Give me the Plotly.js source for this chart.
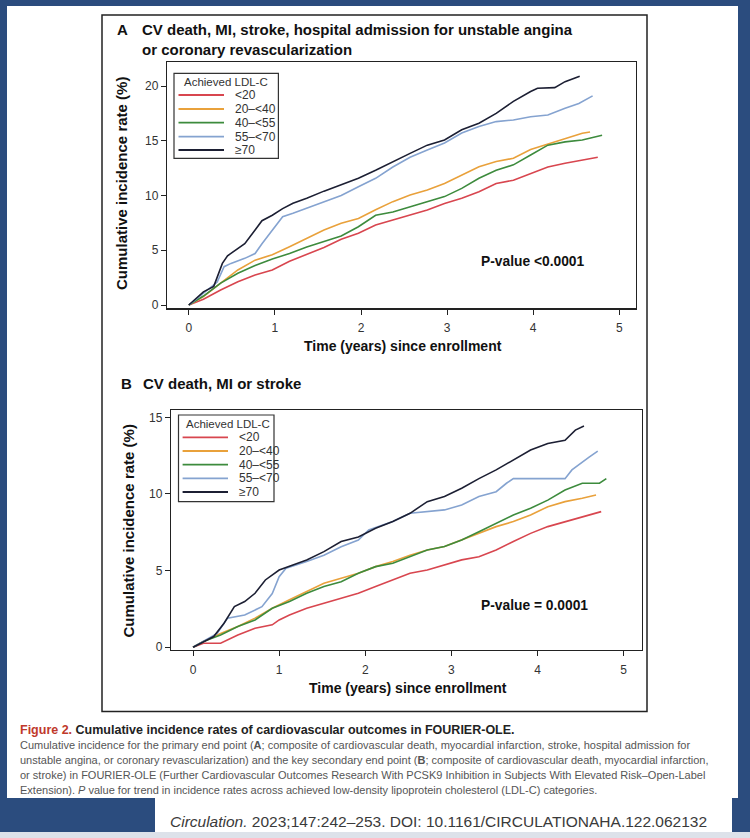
<!DOCTYPE html>
<html>
<head>
<meta charset="utf-8">
<script src="https://cdn.plot.ly/plotly-3.0.1.min.js"></script>
<style>html,body{margin:0;padding:0;background:#2b4c7e;}#chart{width:750px;height:838px;}</style>
</head>
<body>
<div id="chart"></div>
<script>
// ---------- DATA ----------
const groupNames = ["<20", "20\u2013<40", "40\u2013<55", "55\u2013<70", "\u226570"];
const groupColors = ["#d8464f", "#e9a13b", "#3d8b3d", "#85a3d0", "#1c1f33"];
const xTicks = [0, 1, 2, 3, 4, 5];
const yTicksA = [0, 5, 10, 15, 20];
const yTicksB = [0, 5, 10, 15];

// Panel A: CV death, MI, stroke, hospital admission for UA or coronary revascularization
const aTimeLt20 = [0,0.17,0.37,0.57,0.77,0.97,1.17,1.37,1.57,1.77,1.97,2.17,2.37,2.57,2.77,2.97,3.17,3.37,3.57,3.77,3.97,4.17,4.37,4.57,4.75];
const aRateLt20 = [0,0.52,1.37,2.13,2.74,3.2,4.0,4.6,5.25,6.0,6.55,7.3,7.76,8.2,8.68,9.28,9.74,10.35,11.1,11.4,12.0,12.6,12.94,13.24,13.5];
const aTime20to40 = [0,0.17,0.37,0.57,0.77,0.97,1.17,1.37,1.57,1.77,1.97,2.17,2.37,2.57,2.77,2.97,3.17,3.37,3.57,3.77,3.97,4.17,4.37,4.57,4.66];
const aRate20to40 = [0,0.76,2.0,3.2,4.1,4.6,5.33,6.09,6.85,7.46,7.9,8.7,9.44,10.05,10.5,11.1,11.87,12.63,13.1,13.4,14.2,14.7,15.2,15.68,15.8];
const aTime40to55 = [0,0.17,0.37,0.57,0.77,0.97,1.17,1.37,1.57,1.77,1.97,2.17,2.37,2.57,2.77,2.97,3.17,3.37,3.57,3.77,3.97,4.17,4.37,4.57,4.8];
const aRate40to55 = [0,0.82,2.0,2.9,3.6,4.2,4.7,5.3,5.8,6.3,7.15,8.2,8.5,8.98,9.44,9.9,10.65,11.57,12.3,12.8,13.7,14.6,14.9,15.07,15.5];
const aTime55to70 = [0,0.17,0.33,0.41,0.49,0.65,0.77,0.85,0.97,1.09,1.21,1.37,1.57,1.77,1.97,2.17,2.37,2.57,2.77,2.97,3.17,3.37,3.57,3.77,3.97,4.17,4.37,4.53,4.69];
const aRate55to70 = [0,1.07,2.1,3.5,3.8,4.26,4.7,5.6,6.85,8.07,8.37,8.83,9.4,10.0,10.8,11.57,12.6,13.5,14.15,14.8,15.7,16.3,16.75,16.9,17.2,17.35,17.96,18.4,19.1];
const aTimeGe70 = [0,0.17,0.29,0.39,0.45,0.57,0.65,0.77,0.85,0.97,1.09,1.21,1.37,1.57,1.77,1.97,2.17,2.37,2.57,2.77,2.97,3.17,3.37,3.57,3.77,3.97,4.05,4.25,4.37,4.54];
const aRateGe70 = [0,1.2,1.7,3.8,4.5,5.2,5.6,6.85,7.7,8.2,8.8,9.3,9.75,10.4,10.95,11.57,12.3,13.1,13.85,14.6,15.07,16.0,16.6,17.5,18.6,19.5,19.8,19.85,20.4,20.9];

// Panel B: CV death, MI or stroke
const bTimeLt20 = [0,0.12,0.32,0.52,0.72,0.92,1.0,1.12,1.32,1.52,1.72,1.92,2.12,2.32,2.52,2.72,2.92,3.12,3.32,3.52,3.72,3.92,4.12,4.32,4.52,4.74];
const bRateLt20 = [0,0.26,0.26,0.8,1.24,1.46,1.78,2.1,2.54,2.87,3.2,3.52,3.96,4.39,4.83,5.04,5.37,5.7,5.9,6.35,6.9,7.43,7.87,8.2,8.52,8.85];
const bTime20to40 = [0,0.12,0.32,0.52,0.72,0.92,1.12,1.32,1.52,1.72,1.92,2.12,2.32,2.52,2.72,2.92,3.12,3.32,3.52,3.72,3.92,4.12,4.32,4.52,4.68];
const bRate20to40 = [0,0.37,0.9,1.35,1.9,2.54,3.1,3.63,4.17,4.5,4.83,5.26,5.6,6.0,6.35,6.57,7.0,7.43,7.87,8.2,8.63,9.17,9.5,9.72,9.93];
const bTime40to55 = [0,0.12,0.32,0.52,0.72,0.92,1.12,1.32,1.52,1.72,1.92,2.12,2.32,2.52,2.72,2.92,3.12,3.32,3.52,3.72,3.92,4.12,4.32,4.52,4.72,4.8];
const bRate40to55 = [0,0.37,0.8,1.35,1.78,2.54,2.98,3.52,3.96,4.28,4.83,5.26,5.48,5.9,6.35,6.57,7.0,7.54,8.09,8.63,9.07,9.6,10.26,10.7,10.7,11.0];
const bTime55to70 = [0,0.12,0.28,0.4,0.6,0.8,0.92,1.0,1.08,1.32,1.52,1.72,1.92,2.04,2.32,2.52,2.72,2.92,3.12,3.32,3.52,3.64,3.72,4.32,4.4,4.52,4.6,4.7];
const bRate55to70 = [0,0.37,0.9,1.9,2.1,2.65,3.5,4.6,5.15,5.6,6.0,6.56,7.0,7.65,8.2,8.74,8.85,8.96,9.28,9.83,10.15,10.7,11.0,11.0,11.57,12.1,12.4,12.8];
const bTimeGe70 = [0,0.12,0.24,0.36,0.48,0.6,0.72,0.84,1.0,1.16,1.32,1.52,1.72,1.92,2.12,2.32,2.52,2.72,2.92,3.12,3.32,3.52,3.72,3.92,4.12,4.32,4.44,4.54];
const bRateGe70 = [0,0.37,0.7,1.57,2.65,2.98,3.52,4.39,5.04,5.37,5.7,6.24,6.9,7.2,7.76,8.2,8.74,9.5,9.83,10.37,11.0,11.57,12.2,12.87,13.3,13.5,14.17,14.43];

const panelATimes = [aTimeLt20, aTime20to40, aTime40to55, aTime55to70, aTimeGe70];
const panelARates = [aRateLt20, aRate20to40, aRate40to55, aRate55to70, aRateGe70];
const panelBTimes = [bTimeLt20, bTime20to40, bTime40to55, bTime55to70, bTimeGe70];
const panelBRates = [bRateLt20, bRate20to40, bRate40to55, bRate55to70, bRateGe70];

// ---------- LAYOUT HELPERS ----------
const W = 750, H = 838;
const px = v => v / W;
const py = v => 1 - v / H;
const FONT = "Liberation Sans, Arial, Helvetica, sans-serif";

const traces = [];
[0,1,2,3,4].forEach(i => {
  traces.push({x: panelATimes[i], y: panelARates[i], type: "scatter", mode: "lines",
    name: groupNames[i], line: {color: groupColors[i], width: 1.6}, xaxis: "x", yaxis: "y", showlegend: false, hoverinfo: "skip"});
});
[0,1,2,3,4].forEach(i => {
  traces.push({x: panelBTimes[i], y: panelBRates[i], type: "scatter", mode: "lines",
    name: groupNames[i], line: {color: groupColors[i], width: 1.6}, xaxis: "x2", yaxis: "y2", showlegend: false, hoverinfo: "skip"});
});

function axisBase(extra) {
  return Object.assign({
    showline: true, mirror: true, linecolor: "#222", linewidth: 1.2,
    ticks: "outside", ticklen: 5, tickwidth: 1, tickcolor: "#222",
    showgrid: false, zeroline: false, fixedrange: true,
    tickfont: {family: FONT, size: 12, color: "#333"}
  }, extra);
}

const shapes = [
  {type: "rect", xref: "paper", yref: "paper", x0: px(7), x1: px(738), y0: py(798), y1: py(6), fillcolor: "#ffffff", line: {width: 0}, layer: "below"},
  {type: "rect", xref: "paper", yref: "paper", x0: px(155), x1: px(732), y0: py(832), y1: py(797), fillcolor: "#ffffff", line: {width: 0}, layer: "below"},
  {type: "rect", xref: "paper", yref: "paper", x0: 0, x1: 1, y0: 0, y1: py(832), fillcolor: "#dde2ea", line: {width: 0}, layer: "below"},
  {type: "rect", xref: "paper", yref: "paper", x0: px(102), x1: px(647), y0: py(711.5), y1: py(15), fillcolor: "rgba(0,0,0,0)", line: {color: "#222", width: 1.5}, layer: "below"}
];

const annotations = [];
function txt(text, x, y, opts) {
  annotations.push(Object.assign({
    text: text, xref: "paper", yref: "paper", x: px(x), y: py(y),
    xanchor: "left", yanchor: "middle", showarrow: false,
    font: {family: FONT, size: 12, color: "#222"}
  }, opts || {}));
}

// Legends (built from group names and colours)
function addLegend(box, lineX0, lineX1, labelX, ys, titleX, titleY) {
  shapes.push({type: "rect", xref: "paper", yref: "paper", x0: px(box[0]), x1: px(box[1]), y0: py(box[3]), y1: py(box[2]),
    fillcolor: "#ffffff", line: {color: "#333", width: 1.2}, layer: "above"});
  txt("Achieved LDL-C", titleX, titleY, {xanchor: "center", font: {family: FONT, size: 11.5, color: "#333"}});
  groupNames.forEach((n, i) => {
    shapes.push({type: "line", xref: "paper", yref: "paper", x0: px(lineX0), x1: px(lineX1), y0: py(ys[i]), y1: py(ys[i]),
      line: {color: groupColors[i], width: 1.8}, layer: "above"});
    txt(n.replace("<", "&lt;"), labelX, ys[i], {font: {family: FONT, size: 12, color: "#333"}});
  });
}
addLegend([174, 278.4, 73.3, 158.3], 178.5, 224, 232.6, [95, 109, 122.7, 136.7, 150], 225.5, 81.7);
addLegend([178.5, 274, 415, 501.7], 182.6, 228, 237, [437.3, 451, 464.7, 478.3, 492], 228, 424);

// Panel titles
const titleFont = {family: FONT, size: 15, color: "#111"};
txt("<b>A</b>", 114.5, 30, {font: titleFont});
txt("<b>CV death, MI, stroke, hospital admission for unstable angina</b>", 140, 30, {font: titleFont});
txt("<b>or coronary revascularization</b>", 140, 49, {font: titleFont});
txt("<b>B</b>", 119, 383, {font: titleFont});
txt("<b>CV death, MI or stroke</b>", 140.6, 383, {font: titleFont});

// Axis titles
txt("<b>Cumulative incidence rate (%)</b>", 121, 184, {xanchor: "center", textangle: -90, font: {family: FONT, size: 15, color: "#111"}});
txt("<b>Cumulative incidence rate (%)</b>", 127.5, 531, {xanchor: "center", textangle: -90, font: {family: FONT, size: 15, color: "#111"}});
txt("<b>Time (years) since enrollment</b>", 403, 346, {xanchor: "center", font: {family: FONT, size: 14, color: "#111"}});
txt("<b>Time (years) since enrollment</b>", 408, 688, {xanchor: "center", font: {family: FONT, size: 14, color: "#111"}});

// P-values
txt("<b>P-value &lt;0.0001</b>", 532, 262, {xanchor: "center", font: {family: FONT, size: 13.8, color: "#111"}});
txt("<b>P-value = 0.0001</b>", 534.6, 605, {xanchor: "center", font: {family: FONT, size: 13.8, color: "#111"}});

// Caption
txt("<b><span style='color:#c0392b'>Figure 2.</span> Cumulative incidence rates of cardiovascular outcomes in FOURIER-OLE.</b>", 18, 729.5,
  {font: {family: FONT, size: 12.5, color: "#222"}});
const capFont = {family: FONT, size: 11, color: "#555"};
txt("Cumulative incidence for the primary end point (<b>A</b>; composite of cardiovascular death, myocardial infarction, stroke, hospital admission for", 18, 744.5, {font: capFont});
txt("unstable angina, or coronary revascularization) and the key secondary end point (<b>B</b>; composite of cardiovascular death, myocardial infarction,", 18, 760, {font: capFont});
txt("or stroke) in FOURIER-OLE (Further Cardiovascular Outcomes Research With PCSK9 Inhibition in Subjects With Elevated Risk\u2013Open-Label", 18, 775.3, {font: capFont});
txt("Extension). <i>P</i> value for trend in incidence rates across achieved low-density lipoprotein cholesterol (LDL-C) categories.", 18, 790, {font: capFont});

// Citation
txt("<i>Circulation.</i> 2023;147:242\u2013253. DOI: 10.1161/CIRCULATIONAHA.122.062132", 168, 821, {font: {family: FONT, size: 15.5, color: "#3a3a3a"}});

const layout = {
  width: W, height: H,
  margin: {l: 0, r: 0, t: 0, b: 0, pad: 0},
  paper_bgcolor: "#2b4c7e",
  plot_bgcolor: "rgba(0,0,0,0)",
  showlegend: false,
  xaxis: axisBase({domain: [px(167), px(635.5)], range: [-0.253, 5.188], tickvals: xTicks, anchor: "y", ticklabelstandoff: 3}),
  yaxis: axisBase({domain: [py(308.3), py(61.7)], range: [-0.3, 22.22], tickvals: yTicksA, anchor: "x"}),
  xaxis2: axisBase({domain: [px(171), px(642)], range: [-0.256, 5.214], tickvals: xTicks, anchor: "y2", ticklabelstandoff: 3}),
  yaxis2: axisBase({domain: [py(650), py(410)], range: [-0.18, 15.48], tickvals: yTicksB, anchor: "x2"}),
  shapes: shapes,
  annotations: annotations
};

Plotly.newPlot("chart", traces, layout, {displayModeBar: false, staticPlot: true});
</script>
</body>
</html>
